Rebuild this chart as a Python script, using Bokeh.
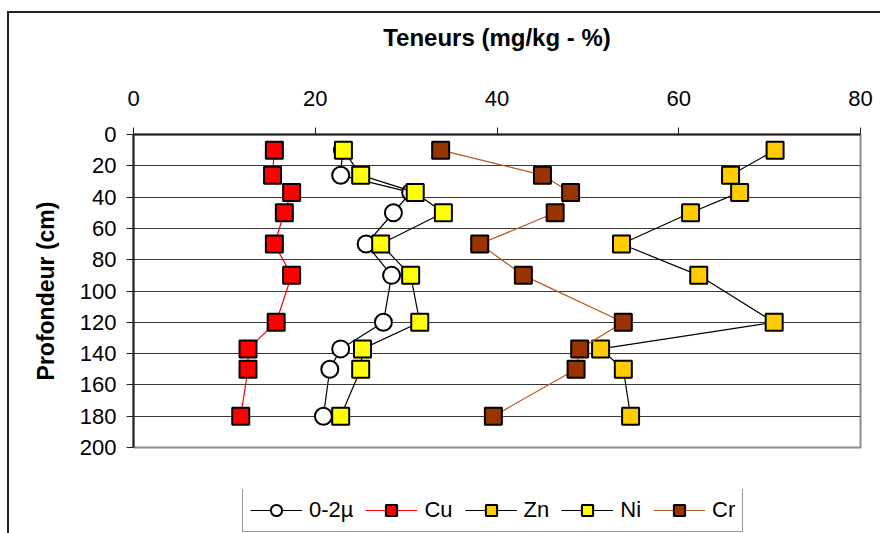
from bokeh.plotting import figure
from bokeh.layouts import column
from bokeh.models import (Range1d, FixedTicker, Legend, LegendItem, InlineStyleSheet)
from bokeh.embed import file_html
from bokeh.resources import INLINE

# Depth of each sample (cm) and contents per element
depth = [10, 26, 37, 50, 70, 90, 120, 137, 150, 180]
clay = [23.0, 22.8, 30.5, 28.6, 25.6, 28.4, 27.5, 22.8, 21.6, 20.9]   # 0-2µ (%)
cu = [15.5, 15.3, 17.4, 16.6, 15.5, 17.4, 15.7, 12.6, 12.6, 11.8]
zn = [70.6, 65.7, 66.7, 61.3, 53.7, 62.2, 70.5, 51.4, 53.9, 54.7]
ni = [23.1, 25.0, 31.0, 34.1, 27.2, 30.5, 31.5, 25.2, 25.0, 22.8]
cr = [33.8, 45.0, 48.1, 46.4, 38.1, 42.9, 53.9, 49.1, 48.7, 39.6]

x_ticks = [0, 20, 40, 60, 80]
y_ticks = [0, 20, 40, 60, 80, 100, 120, 140, 160, 180, 200]

FONT = "Liberation Sans"


def chart_border(top_edge):
    # left (and optionally top) edge of the surrounding chart frame
    top_rule = "border-top: 2px solid #222;" if top_edge else ""
    top_px = "11px" if top_edge else "0"
    return InlineStyleSheet(css=f"""
:host {{ position: relative; }}
:host::after {{
  content: "";
  position: absolute;
  left: 7px; top: {top_px}; right: 0; bottom: 0;
  border-left: 2px solid #222;
  {top_rule}
  pointer-events: none;
}}
""")


p = figure(width=880, height=489, output_backend="svg", toolbar_location=None,
           x_range=Range1d(0, 80), y_range=Range1d(200, 0),
           x_axis_location="above",
           min_border_left=133, min_border_right=20,
           min_border_top=134, min_border_bottom=42)
p.background_fill_color = "white"
p.border_fill_color = "white"
p.outline_line_color = "#8c8c8c"
p.outline_line_width = 2
p.stylesheets = [chart_border(True)]

# axes
xa = p.xaxis[0]
xa.ticker = FixedTicker(ticks=x_ticks)
xa.axis_label = "Teneurs (mg/kg - %)"
ya = p.yaxis[0]
ya.ticker = FixedTicker(ticks=y_ticks)
ya.axis_label = "Profondeur (cm)"
for ax in (xa, ya):
    ax.axis_line_color = "#222222"
    ax.axis_line_width = 2
    ax.major_tick_line_color = "#222222"
    ax.major_tick_out = 7
    ax.major_tick_in = 0
    ax.minor_tick_line_color = None
    ax.major_label_text_font = FONT
    ax.major_label_text_font_size = "22px"
    ax.major_label_text_color = "black"
    ax.axis_label_text_font = FONT
    ax.axis_label_text_font_size = "24px"
    ax.axis_label_text_font_style = "bold"
    ax.axis_label_text_color = "black"
xa.major_label_standoff = 22
xa.axis_label_standoff = 37
ya.major_label_standoff = 10
ya.axis_label_standoff = 18
ya.axis_label_text_font_size = "23px"

p.xgrid.grid_line_color = None
p.ygrid.ticker = FixedTicker(ticks=y_ticks)
p.ygrid.grid_line_color = "#3a3a3a"
p.ygrid.grid_line_width = 1

series = [
    ("0-2µ", clay, "circle", "white", "black"),
    ("Cu", cu, "square", "#ff0000", "#ff0000"),
    ("Zn", zn, "square", "#ffcc00", "black"),
    ("Ni", ni, "square", "#ffff00", "black"),
    ("Cr", cr, "square", "#993300", "#b4581f"),
]

for label, vals, marker, fill, line_col in series:
    p.line(vals, depth, line_color=line_col, line_width=1.2)
    p.scatter(vals, depth, marker=marker, size=17, fill_color=fill,
              line_color="black", line_width=2)

# legend strip under the chart; its renderers sit outside this strip's
# ranges, so only the legend samples are visible
leg = figure(width=880, height=44, output_backend="svg", toolbar_location=None,
             x_range=Range1d(0, 1), y_range=Range1d(0, 1),
             x_axis_type=None, y_axis_type=None,
             min_border_left=0, min_border_right=0,
             min_border_top=0, min_border_bottom=0)
leg.outline_line_color = None
leg.grid.grid_line_color = None
leg.background_fill_color = "white"
leg.border_fill_color = "white"
leg.stylesheets = [chart_border(False)]

items = []
for label, vals, marker, fill, line_col in series:
    ln = leg.line(vals, depth, line_color=line_col, line_width=1.2)
    sc = leg.scatter(vals, depth, marker=marker, size=17, fill_color=fill,
                     line_color="black", line_width=2)
    items.append(LegendItem(label=label, renderers=[ln, sc]))

legend = Legend(items=items, orientation="horizontal", location=(109, 1),
                margin=0,
                glyph_width=52, glyph_height=28, label_standoff=7, spacing=12,
                padding=7, label_text_font=FONT, label_text_font_size="22px",
                label_text_color="black", border_line_color="#333333",
                border_line_width=1.5, background_fill_color="white",
                background_fill_alpha=1.0)
leg.add_layout(legend, "center")

layout = column(p, leg, spacing=0)

open("out.html", "w").write(file_html(layout, INLINE))
